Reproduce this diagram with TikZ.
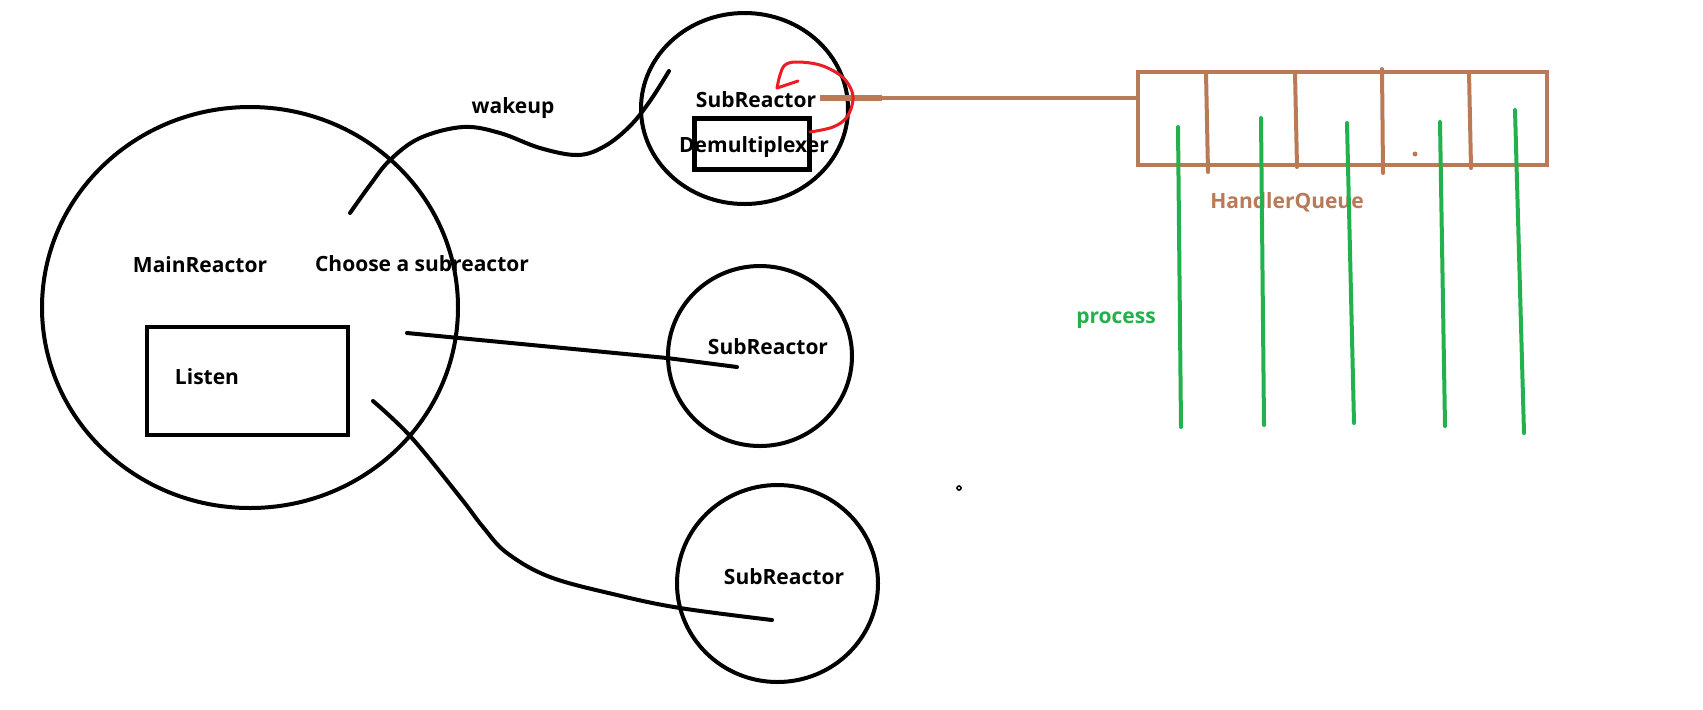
\documentclass[tikz,border=0pt]{standalone}
\usepackage{fontspec}
\setmainfont{Open Sans}
\usetikzlibrary{shapes.geometric}
\definecolor{qbrown}{HTML}{B97A57}
\definecolor{pgreen}{HTML}{22B14C}
\definecolor{pred}{HTML}{ED1C24}
\tikzset{
  reactor/.style={draw=black, line width=2pt, ellipse, inner sep=0pt},
  lbl/.style={font=\bfseries\fontsize{10.5pt}{12pt}\selectfont, inner sep=0pt, anchor=center},
  wire/.style={draw=black, line width=2pt, line cap=round, line join=round},
  qline/.style={draw=qbrown, line width=2pt, line cap=round},
  proc/.style={draw=pgreen, line width=2pt, line cap=round},
  hook/.style={draw=pred, line width=1.5pt, line cap=round, line join=round},
  boxframe/.style={draw=black, inner sep=0pt},
}
\begin{document}
\begin{tikzpicture}[x=0.5pt,y=-0.5pt]
\useasboundingbox (0,0) rectangle (1703,709);
\fill[white] (0,0) rectangle (1703,709);

% reactors
\node[reactor, minimum width=208pt, minimum height=200.5pt] (main) at (250,307.5) {};
\node[reactor, minimum width=103.5pt, minimum height=95.5pt] (subA) at (744.5,108.5) {};
\node[reactor, minimum width=92pt, minimum height=90pt] (subB) at (760,356) {};
\node[reactor, minimum width=100.5pt, minimum height=98.5pt] (subC) at (777.5,583.5) {};

% boxes
\node[boxframe, line width=2pt, minimum width=100.5pt, minimum height=54pt] (listenbox) at (247.5,381) {};
\node[boxframe, line width=2.5pt, minimum width=57.5pt, minimum height=25.5pt] (demuxbox) at (751.5,143.5) {};

% labels
\node[lbl] (mainlbl) at (200,265) {MainReactor};
\node[lbl] (choose) at (422,264) {Choose a subreactor};
\node[lbl] (listen) at (207,377) {Listen};
\node[lbl] (wake) at (513,108) {wakeup};
\node[lbl] (subAlbl) at (756,100) {SubReactor};
\node[lbl] (demux) at (754,147) {Demultiplexer};
\node[lbl] (subBlbl) at (768,347) {SubReactor};
\node[lbl] (subClbl) at (784,577) {SubReactor};
\node[lbl, text=qbrown] (hq) at (1287,202) {HandlerQueue};
\node[lbl, text=pgreen] (process) at (1116,320) {process};

% handler queue
\node[draw=qbrown, line width=2pt, inner sep=0pt, minimum width=204.5pt, minimum height=46.5pt] (queue) at (1342.5,118.5) {};
\draw[qline] (1206,72) -- (1208,172);
\draw[qline] (1295,72) -- (1297,167);
\draw[qline] (1382,69) -- (1383,173);
\draw[qline] (1469,72) -- (1471,168);
\fill[qbrown] (1415,154) circle (2.5);

% link from SubReactor to queue
\coordinate (qstart) at (820,98);
\draw[qline, line cap=butt] (qstart) -- (qstart -| queue.west);
\draw[draw=qbrown, line width=3pt] (qstart) -- ++(62,0);

% process lines
\draw[proc] (1178,127) -- (1181,427);
\draw[proc] (1261,118) -- (1264,425);
\draw[proc] (1347,123) -- (1354,423);
\draw[proc] (1440,122) -- (1445,426);
\draw[proc] (1515,110) -- (1524,433);

% wakeup curve
\coordinate (wA) at (350,213);
\coordinate (wB) at (669,71);
\draw[wire] plot[smooth, tension=0.6] coordinates {(wA) (370,185) (390,160) (420,138) (463,127) (500,133) (540,148) (578,155) (605,146) (630,126) (650,101) (wB)};

% middle connector
\coordinate (mA) at (407,333);
\coordinate (mB) at (737,367);
\draw[wire] (mA) -- (667,358) -- (mB);

% bottom connector
\coordinate (bA) at (373,401);
\coordinate (bB) at (772,620);
\draw[wire] plot[smooth, tension=0.6] coordinates {(bA) (411,437) (460,497) (483,527) (507,553) (550,577) (617,595) (680,608) (bB)};

% red hook arrow
\coordinate (rA) at (810,132);
\coordinate (rB) at (777,88);
\draw[hook] plot[smooth, tension=0.6] coordinates {(rA) (833,127) (847,117) (853,100) (850,87) (840,75) (820,65) (797,62) (785,65) (780,75) (rB)};
\draw[hook] (rB) -- (798,81);

% tiny mark
\draw[line width=0.8pt] (959,488) circle (2);
\end{tikzpicture}
\end{document}
